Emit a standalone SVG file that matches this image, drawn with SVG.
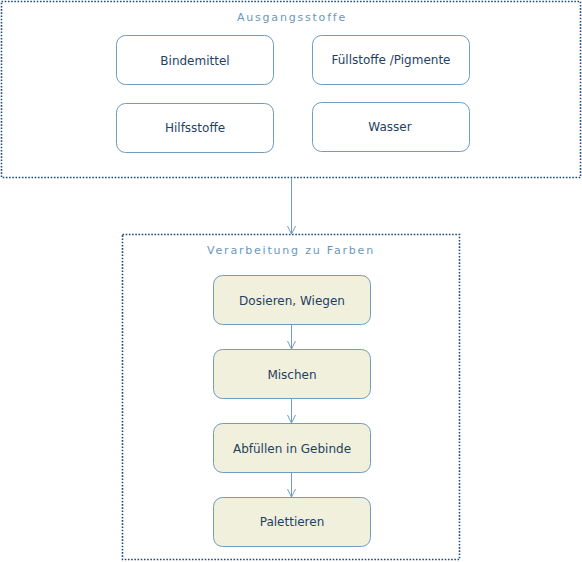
<svg xmlns="http://www.w3.org/2000/svg" width="582" height="562" viewBox="0 0 582 562">
<style>
.grp{fill:none;stroke:#1f4a78;stroke-width:1.6;stroke-dasharray:1.6 1.6}
.title{font-family:"DejaVu Sans",Verdana,sans-serif;font-size:11px;fill:#6a98bd;letter-spacing:1.8px;text-anchor:middle}
.n rect{stroke:#6f9cc0;stroke-width:1;fill:#ffffff}
.p rect{fill:#f0f0dc}
.n text{font-family:"DejaVu Sans",Verdana,sans-serif;font-size:12px;fill:#1f3f66;text-anchor:middle}
.c{stroke:#6f9cc0;stroke-width:1;fill:none}
</style>
<defs>
<marker id="v" viewBox="0 0 10 10" refX="9" refY="5" markerWidth="10" markerHeight="10" markerUnits="userSpaceOnUse" orient="auto">
<path d="M1,1 L9,5 L1,9" fill="none" stroke="#6f9cc0" stroke-width="1"/>
</marker>
</defs>
<g id="ausgangsstoffe">
<rect class="grp" x="1.5" y="1.5" width="579" height="176"/>
<text class="title" x="292" y="21">Ausgangsstoffe</text>
</g>
<g id="verarbeitung">
<rect class="grp" x="122.5" y="234.5" width="337" height="325"/>
<text class="title" x="291" y="254">Verarbeitung zu Farben</text>
</g>
<g id="bindemittel" class="n"><rect x="116.5" y="35.5" width="157" height="49" rx="9"/><text x="195" y="65">Bindemittel</text></g>
<g id="fuellstoffe" class="n"><rect x="312.5" y="35.5" width="157" height="49" rx="9"/><text x="391" y="64">Füllstoffe /Pigmente</text></g>
<g id="hilfsstoffe" class="n"><rect x="116.5" y="103.5" width="157" height="49" rx="9"/><text x="195" y="132">Hilfsstoffe</text></g>
<g id="wasser" class="n"><rect x="312.5" y="102.5" width="157" height="49" rx="9"/><text x="390" y="131">Wasser</text></g>
<g id="dosieren" class="n p"><rect x="213.5" y="275.5" width="157" height="49" rx="9"/><text x="292" y="305">Dosieren, Wiegen</text></g>
<g id="mischen" class="n p"><rect x="213.5" y="349.5" width="157" height="49" rx="9"/><text x="292" y="379">Mischen</text></g>
<g id="abfuellen" class="n p"><rect x="213.5" y="423.5" width="157" height="49" rx="9"/><text x="292" y="453">Abfüllen in Gebinde</text></g>
<g id="palettieren" class="n p"><rect x="213.5" y="497.5" width="157" height="49" rx="9"/><text x="292" y="526">Palettieren</text></g>
<g id="connectors">
<line class="c" x1="291.5" y1="178" x2="291.5" y2="234" marker-end="url(#v)"/>
<line class="c" x1="291.5" y1="325" x2="291.5" y2="349" marker-end="url(#v)"/>
<line class="c" x1="291.5" y1="399" x2="291.5" y2="423" marker-end="url(#v)"/>
<line class="c" x1="291.5" y1="473" x2="291.5" y2="497" marker-end="url(#v)"/>
</g>
</svg>
